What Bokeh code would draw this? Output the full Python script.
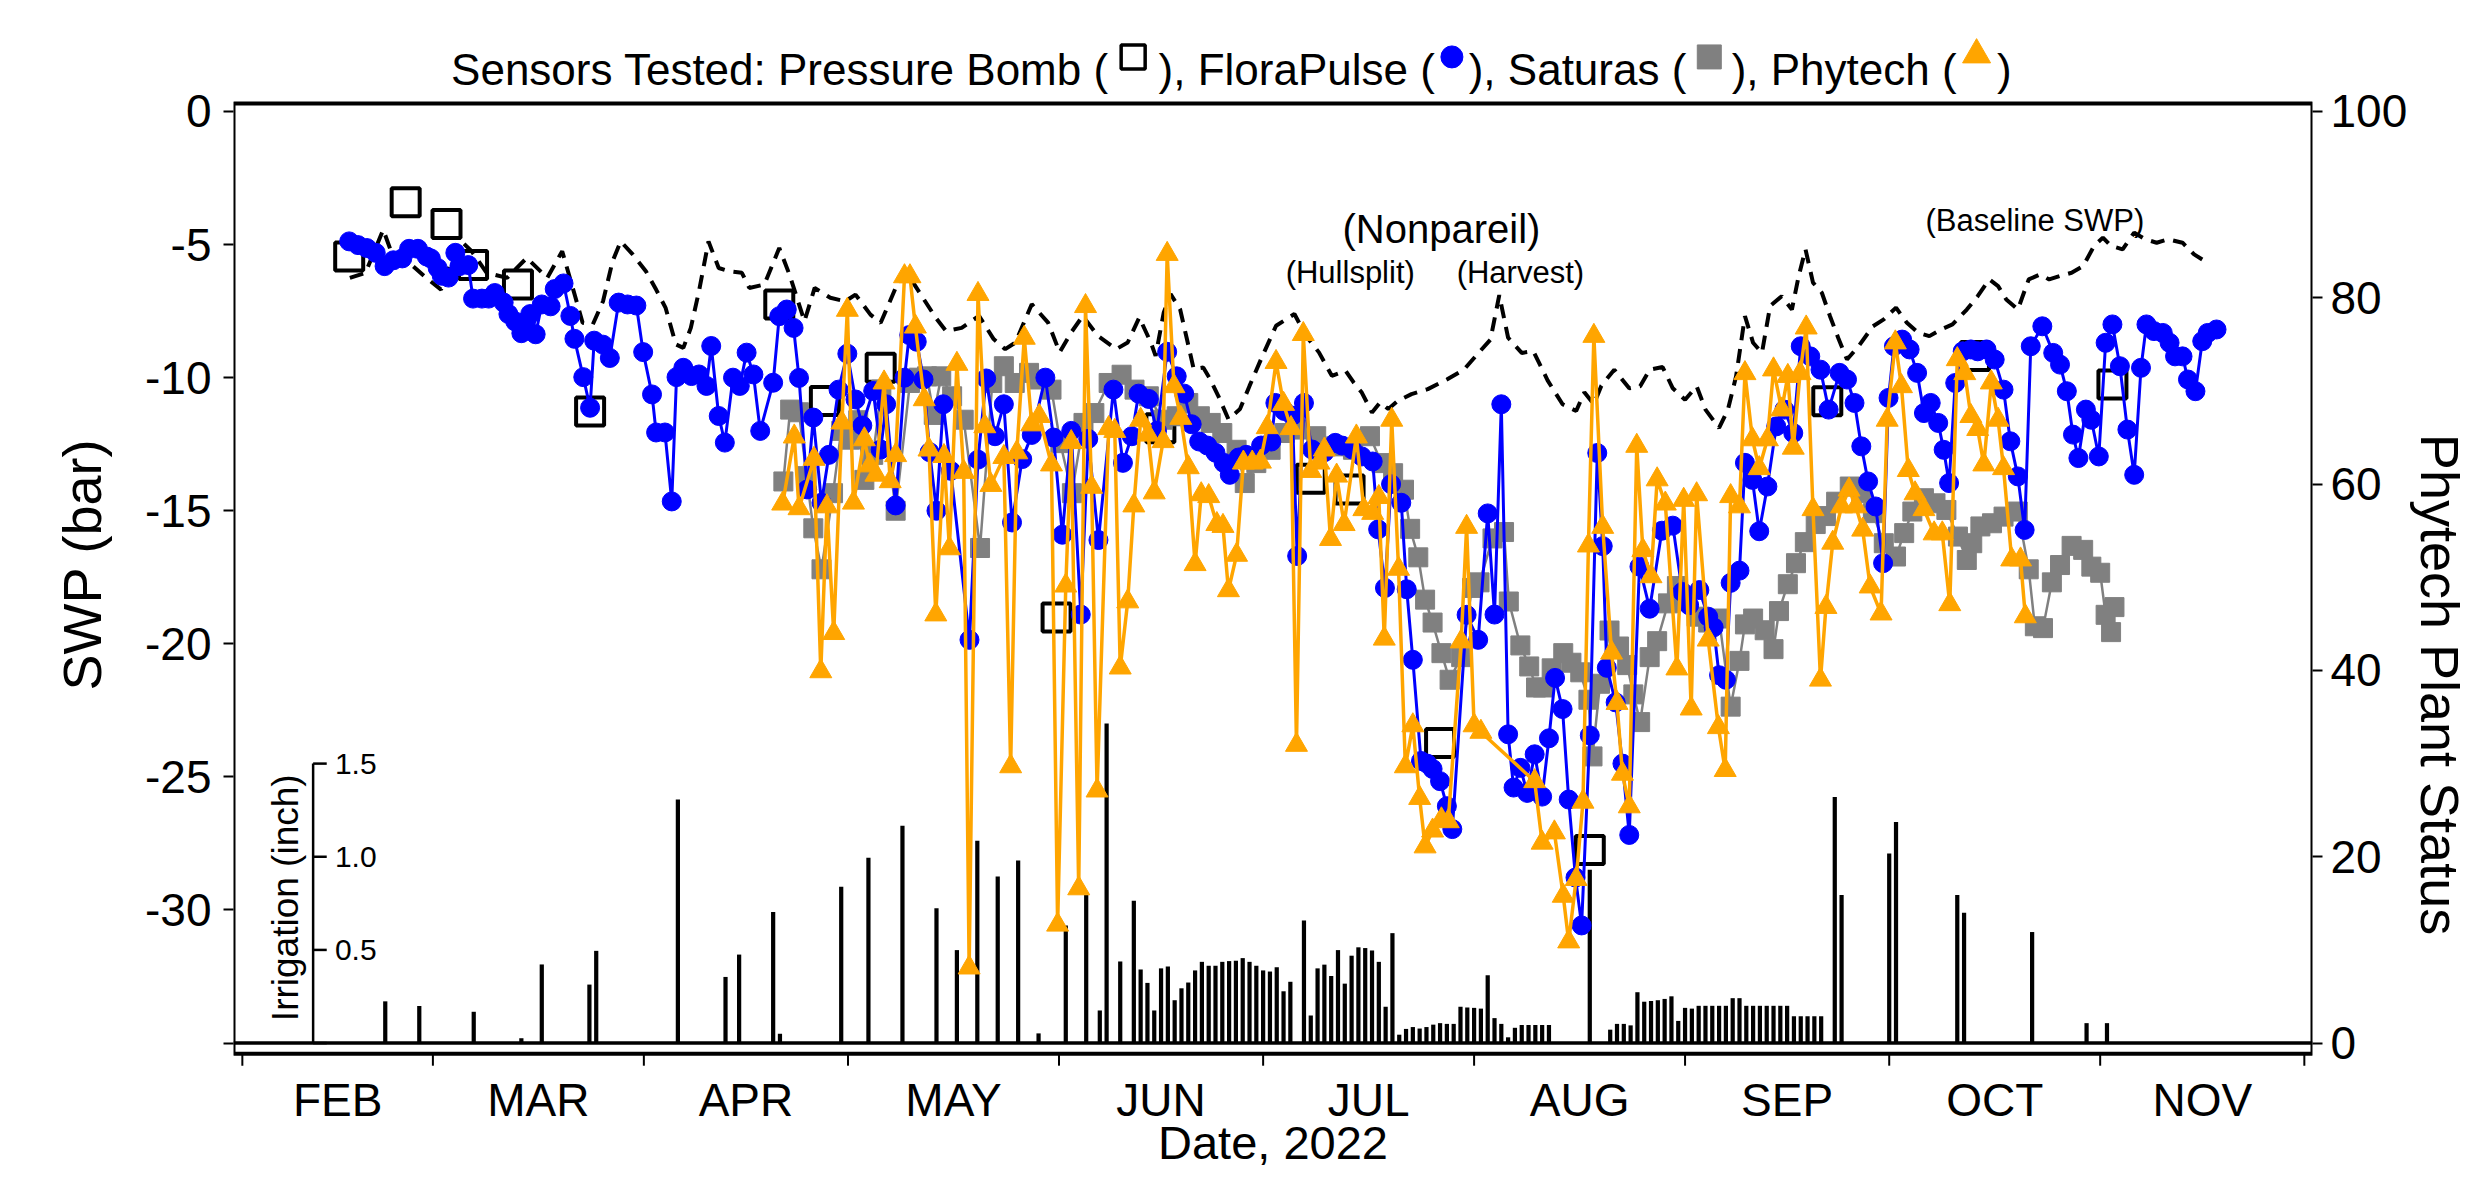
from bokeh.plotting import figure
from bokeh.models import Range1d, LinearAxis, FixedTicker
from bokeh.embed import file_html
from bokeh.resources import INLINE
from bokeh.core.properties import value

FONT = "Liberation Sans"
BLUE = "#0000FF"
GRAY = "#808080"
ORANGE = "#FFA500"

# ---------------- axes / categories ----------------
month_names = ["FEB", "MAR", "APR", "MAY", "JUN", "JUL", "AUG", "SEP", "OCT", "NOV"]
month_start_doy = [32, 60, 91, 121, 152, 182, 213, 244, 274, 305, 335]
swp_ticks = [0, -5, -10, -15, -20, -25, -30, -35]
status_ticks = [0, 20, 40, 60, 80, 100]
irr_ticks = [0.0, 0.5, 1.0, 1.5]
irr_tick_labels = ["0.5", "1.0", "1.5"]

# ---------------- data (day of year 2022) ----------------
# Pressure bomb SWP (bar)
pb_day = [47.7, 56.0, 62.0, 65.9, 72.5, 83.1, 110.9, 117.6, 125.8, 151.65, 166.9,
          189.0, 194.7, 208.0, 230.0, 264.9, 286.6, 306.8]
pb_swp = [-5.45, -3.41, -4.23, -5.77, -6.50, -11.27, -7.25, -10.88, -9.63, -19.01, -11.9,
          -13.8, -14.2, -23.73, -27.75, -10.89, -9.19, -10.26]

# FloraPulse SWP (bar)
fp_day = [47.7, 49.0, 50.3, 51.6, 52.9, 54.2, 55.5, 56.5, 57.8, 59.1, 59.7, 60.7, 61.3, 62.3,
          63.3, 63.9, 65.2, 65.9, 67.2, 68.2, 69.1, 70.4, 71.1, 72.1, 73.0, 73.7, 74.3, 75.1,
          76.0, 77.3, 77.9, 79.2, 80.2, 80.8, 82.1, 83.1, 83.7, 85.0, 86.0, 87.3, 88.6, 89.9,
          90.9, 92.2, 92.8, 94.1, 95.1, 95.8, 96.8, 98.0, 99.1, 100.2, 100.9, 102.0, 102.9,
          104.1, 105.1, 106.1, 107.1, 108.1, 110.0, 110.9, 112.0, 113.0, 113.8, 115.0, 115.9,
          117.1, 118.2, 119.6, 120.9, 122.1, 123.1, 124.7, 125.8, 126.6, 128.0, 129.3, 130.0,
          131.1, 132.1, 133.0, 134.0, 135.0, 136.1, 138.85, 140.1, 141.3, 142.6, 143.9, 145.1,
          146.6, 148.0, 150.0, 151.2, 152.5, 153.8, 155.2, 156.3, 157.8, 160.0, 161.4, 162.7,
          163.7, 165.2, 166.4, 167.9, 169.3, 170.4, 171.5, 172.6, 173.8, 175.0, 176.2, 177.1,
          178.4, 179.5, 180.3, 181.7, 183.2, 183.8, 185.1, 186.3, 187.0, 188.0, 189.2, 191.0,
          192.6, 193.6, 195.1, 196.5, 198.1, 198.9, 199.9, 200.8, 202.3, 203.1, 204.0, 205.2,
          206.1, 206.9, 208.0, 209.0, 209.8, 211.9, 213.6, 215.0, 216.0, 217.0, 218.0, 218.8,
          219.8, 220.8, 221.9, 223.0, 224.0, 224.9, 226.0, 226.9, 227.9, 228.8, 230.0, 231.1,
          231.9, 232.5, 233.8, 234.8, 235.8, 237.3, 238.8, 240.6, 242.2, 243.6, 244.6, 246.1,
          247.4, 248.2, 249.0, 250.0, 250.7, 252.0, 252.8, 253.9, 254.9, 256.1, 257.4, 258.6,
          259.9, 261.0, 262.4, 263.9, 265.1, 266.7, 267.8, 268.9, 269.9, 270.9, 272.0, 273.1,
          273.9, 274.7, 275.9, 277.0, 278.1, 279.1, 280.1, 281.2, 282.0, 282.8, 283.7, 284.8,
          286.0, 287.0, 288.3, 289.5, 290.8, 291.8, 292.9, 293.9, 294.8, 296.5, 298.1, 299.1,
          300.1, 301.0, 301.8, 302.9, 303.7, 304.8, 305.8, 306.8, 307.9, 309.0, 310.0, 311.0,
          311.8, 312.9, 314.2, 315.2, 316.0, 317.1, 317.9, 319.0, 320.0, 320.8, 322.1]
fp_swp = [-4.88, -5.02, -5.13, -5.31, -5.81, -5.59, -5.52, -5.16, -5.16, -5.45, -5.52, -5.88, -6.17, -6.24,
          -5.31, -5.81, -5.77, -7.03, -7.03, -7.03, -6.82, -7.18, -7.61, -7.89, -8.33, -7.89, -7.61, -8.37,
          -7.25, -7.32, -6.67, -6.46, -7.68, -8.54, -9.98, -11.13, -8.61, -8.76, -9.26, -7.18, -7.25, -7.29,
          -9.04, -10.63, -12.06, -12.06, -14.65, -9.98, -9.63, -9.94, -9.88, -10.31, -8.81, -11.44, -12.44,
          -10.0, -10.31, -9.06, -9.88, -12.0, -10.19, -7.69, -7.44, -8.13, -10.01, -14.2, -11.5,
          -14.7, -12.9, -10.45, -9.1, -10.82, -11.8, -10.5, -12.7, -11.0, -14.8, -10.0, -8.4,
          -8.65, -10.07, -12.8, -15.0, -11.0, -13.5, -19.85, -13.08, -10.03, -12.2, -11.0, -15.44,
          -13.06, -12.15, -10.0, -12.25, -15.9, -12.0, -18.9, -12.3, -16.1, -10.45, -13.2, -12.2,
          -10.6, -10.8, -12.0, -9.03, -9.95, -10.6, -11.75, -12.4, -12.55, -12.82, -13.2, -13.65,
          -13.0, -12.9, -13.05, -12.55, -12.4, -10.95, -11.25, -11.43, -16.7, -10.95, -12.7, -12.8,
          -12.45, -12.55, -12.7, -12.96, -13.15, -15.7, -17.9, -14.0, -14.7, -17.95, -20.6, -24.4,
          -24.5, -24.7, -25.16, -26.1, -26.96, -18.91, -19.85, -15.1, -18.9, -11.0, -23.4, -25.4,
          -24.66, -25.6, -24.15, -25.74, -23.55, -21.28, -22.45, -25.85, -28.78, -30.58, -23.44, -12.83,
          -16.33, -20.9, -22.2, -24.5, -27.18, -17.1, -18.68, -15.75, -15.56, -18.05, -18.55, -17.98,
          -18.98, -19.38, -21.18, -21.35, -17.71, -17.25, -13.2, -13.84, -15.77, -14.09, -11.83, -11.2,
          -12.08, -8.82, -9.2, -9.7, -11.2, -9.82, -10.07, -10.95, -12.58, -13.9, -14.84, -16.97,
          -10.76, -8.82, -8.57, -8.94, -9.82, -11.33, -10.95, -11.7, -12.71, -13.96, -10.2, -9.01,
          -8.94, -9.01, -8.94, -9.32, -10.45, -12.39, -13.71, -15.72, -8.82, -8.07, -9.07, -9.51,
          -10.51, -12.14, -13.02, -11.2, -11.58, -12.96, -8.69, -8.0, -9.57, -11.95, -13.65, -9.63,
          -8.0, -8.25, -8.32, -8.69, -9.2, -9.2, -10.07, -10.51, -8.63, -8.32, -8.19]

# Saturas SWP (bar)
sat_day = [111.5, 112.5, 113.8, 114.9, 115.9, 117.1, 118.8, 120.0, 121.3, 122.5, 123.4, 124.7, 125.9,
           128.0, 130.1, 131.4, 132.6, 133.6, 134.7, 136.3, 138.0, 140.4, 142.2, 143.9, 145.5, 147.6,
           148.9, 150.9, 152.2, 153.9, 155.6, 157.2, 159.3, 161.2, 163.1, 165.2, 167.2, 169.3, 171.0,
           172.7, 174.3, 176.0, 178.1, 179.3, 181.0, 183.1, 185.2, 187.3, 189.8, 192.7, 195.2, 197.7,
           199.4, 201.1, 202.7, 203.6, 204.8, 205.8, 206.9, 208.2, 209.4, 211.1, 212.7, 213.8, 215.7,
           217.4, 218.1, 219.8, 221.1, 222.1, 223.1, 224.4, 226.1, 227.3, 228.6, 229.8, 230.4, 231.5,
           232.9, 234.3, 235.5, 236.4, 237.4, 238.8, 239.9, 241.5, 242.8, 244.0, 245.7, 247.4, 249.0,
           250.7, 252.0, 252.8, 254.0, 255.7, 257.0, 257.8, 259.1, 260.3, 261.6, 263.2, 264.7, 266.2,
           268.2, 269.9, 271.6, 273.2, 275.0, 276.2, 277.4, 279.1, 280.8, 282.4, 284.1, 285.4, 286.2,
           287.4, 289.1, 290.8, 292.9, 294.5, 295.4, 296.6, 297.9, 299.1, 300.8, 302.5, 303.7, 305.0,
           305.8, 306.6, 307.1]
sat_swp = [-13.9, -11.2, -11.3, -13.7, -15.66, -17.2, -14.34, -12.0, -12.33, -11.6, -13.84, -12.9, -10.45,
           -15.0, -10.2, -10.0, -9.95, -11.4, -9.95, -10.7, -11.58, -16.4, -10.2, -9.57, -10.2, -9.82,
           -10.07, -10.45, -12.46, -14.34, -11.7, -11.33, -10.2, -9.89, -10.45, -10.7, -11.58, -11.45, -10.95,
           -11.45, -11.7, -12.08, -12.71, -13.96, -13.21, -12.71, -12.08, -11.95, -12.2, -12.58, -12.71, -12.2,
           -13.21, -13.59, -14.21, -15.68, -16.75, -18.34, -19.2, -20.35, -21.35, -20.5, -17.9, -17.69, -16.04,
           -15.8, -18.41, -20.06, -20.85, -21.64, -21.64, -20.92, -20.35, -20.71, -21.07, -22.1, -24.23, -21.5,
           -19.5, -20.1, -20.8, -21.9, -22.94, -20.5, -19.9, -18.48, -17.83, -18.34, -18.98, -19.2, -19.05,
           -22.36, -20.64, -19.27, -19.05, -19.49, -20.2, -18.77, -17.76, -16.97, -16.18, -15.5, -15.2, -14.66,
           -14.09, -14.34, -15.09, -16.22, -16.72, -15.84, -15.03, -14.53, -14.72, -14.97, -15.97, -16.85, -16.22,
           -15.59, -15.47, -15.22, -15.03, -17.2, -19.34, -19.41, -17.69, -17.04, -16.32, -16.47, -17.1, -17.33,
           -18.91, -19.56, -18.62]

# Phytech plant status (0-100)
ph_day = [111.4, 113.1, 113.8, 116.0, 117.0, 117.9, 118.9, 120.1, 120.9, 121.8, 123.4, 124.2, 125.1,
          126.3, 127.2, 128.0, 129.3, 130.1, 130.9, 132.2, 132.9, 133.9, 135.1, 135.9, 137.0, 138.0,
          138.8, 140.1, 141.1, 142.0, 143.9, 144.9, 145.8, 146.9, 148.0, 149.1, 150.9, 151.8, 153.0,
          153.8, 154.9, 155.9, 156.8, 157.6, 159.3, 160.2, 161.0, 162.1, 163.0, 164.0, 165.1, 166.0,
          167.3, 167.9, 168.9, 169.9, 171.0, 172.0, 172.9, 174.0, 175.2, 176.1, 176.9, 178.1, 179.1,
          180.4, 181.6, 182.6, 183.9, 185.0, 186.1, 186.9, 187.9, 189.0, 190.2, 191.0, 191.9, 192.8,
          193.9, 195.7, 196.8, 198.1, 199.0, 199.8, 200.9, 201.9, 202.9, 204.0, 205.0, 205.8, 206.9,
          208.2, 209.2, 211.1, 211.9, 213.0, 214.0, 221.9, 223.0, 224.8, 226.1, 226.9, 228.0, 229.0,
          229.8, 230.6, 231.9, 233.2, 234.0, 234.8, 235.8, 236.9, 237.8, 239.0, 239.9, 241.1, 242.8,
          243.8, 244.9, 245.7, 247.4, 248.9, 249.9, 250.7, 252.0, 252.8, 253.9, 254.9, 256.1, 257.0,
          258.2, 259.1, 259.9, 260.9, 261.8, 262.8, 263.9, 264.7, 265.7, 267.0, 268.1, 269.1, 270.1,
          271.2, 272.8, 273.7, 274.9, 275.8, 276.8, 277.8, 279.1, 280.6, 281.8, 282.9, 284.0, 285.1,
          286.0, 287.0, 287.9, 289.0, 290.0, 290.8, 292.0, 293.3, 294.0]
ph_status = [57.9, 65.1, 57.4, 62.7, 39.9, 57.6, 44.0, 66.6, 78.7, 58.0, 64.8, 62.0, 61.0,
             70.9, 60.3, 63.1, 82.3, 82.3, 76.9, 69.1, 63.7, 46.0, 63.0, 53.1, 72.9, 61.3,
             8.1, 80.4, 66.2, 59.9, 62.9, 29.7, 63.4, 75.7, 66.4, 67.3, 62.1, 12.7, 49.1,
             64.5, 16.6, 79.1, 59.7, 27.1, 66.0, 65.7, 40.3, 47.4, 57.7, 66.9, 65.3, 59.1,
             64.6, 84.7, 70.5, 67.1, 61.8, 51.4, 58.9, 58.7, 55.7, 55.5, 48.6, 52.4, 62.3,
             62.3, 62.4, 66.1, 73.1, 68.6, 66.0, 32.0, 76.1, 61.4, 62.3, 63.7, 54.1, 60.9,
             55.7, 65.1, 57.3, 56.9, 58.6, 43.4, 66.9, 50.9, 29.7, 34.1, 26.3, 21.1, 22.8,
             24.0, 23.8, 43.1, 55.4, 34.1, 33.4, 28.1, 21.5, 22.6, 15.8, 10.9, 17.6, 25.9,
             53.4, 75.9, 55.4, 41.9, 36.5, 28.9, 25.4, 64.1, 52.9, 50.1, 60.5, 57.9, 40.2,
             58.3, 35.9, 58.9, 43.3, 33.9, 29.3, 58.7, 57.6, 71.9, 64.8, 61.7, 64.8, 72.3,
             68.0, 71.6, 63.9, 71.9, 76.8, 57.3, 39.0, 46.8, 53.7, 57.6, 59.4, 57.6, 55.1,
             49.0, 46.1, 66.9, 75.2, 70.5, 61.5, 59.0, 57.3, 54.7, 54.7, 47.1, 73.4, 71.9,
             67.3, 65.9, 62.1, 70.9, 66.9, 61.7, 51.9, 51.9, 45.8]

# Baseline SWP (bar)
base_day = [47.8, 50.1, 52.7, 54.2, 56.8, 59.0, 61.2, 62.7, 64.2, 65.7, 67.9, 70.9, 73.8, 76.8, 79.0,
            80.9, 82.0, 83.5, 85.0, 86.4, 87.6, 89.4, 91.3, 92.8, 94.2, 95.7, 96.8, 97.9, 99.1, 100.5,
            102.0, 103.5, 105.4, 106.5, 108.7, 110.9, 112.4, 114.6, 116.1, 118.4, 120.6, 122.1, 124.3,
            125.8, 128.0, 129.5, 131.7, 133.9, 135.4, 137.7, 140.25, 142.4, 144.1, 145.6, 148.0, 150.4,
            152.1, 153.8, 155.5, 157.7, 160.4, 162.1, 163.8, 165.5, 166.2, 167.4, 168.4, 169.8, 170.8,
            171.8, 173.2, 174.2, 175.4, 176.9, 178.6, 180.0, 181.7, 183.9, 186.6, 188.3, 190.2, 192.1,
            194.1, 195.3, 196.5, 198.0, 199.2, 200.4, 201.8, 203.8, 206.2, 209.0, 211.5, 213.2, 215.4,
            216.7, 218.0, 220.0, 221.7, 223.8, 226.0, 228.0, 229.2, 230.6, 231.7, 233.6, 235.8, 237.4,
            238.8, 240.7, 242.2, 244.0, 245.7, 247.0, 249.0, 250.3, 251.5, 252.8, 254.0, 255.3, 256.5,
            258.2, 259.7, 260.7, 261.7, 262.8, 264.1, 265.3, 266.6, 267.8, 269.5, 271.6, 273.2, 275.0,
            276.6, 278.3, 279.9, 281.6, 283.3, 285.4, 287.0, 288.7, 290.0, 291.2, 292.9, 294.5, 296.2,
            297.5, 299.1, 300.8, 302.5, 304.1, 305.4, 306.6, 308.3, 310.0, 311.6, 313.3, 315.0, 317.1,
            318.8, 320.0]
base_swp = [-6.25, -6.06, -4.44, -5.5, -5.75, -6.25, -6.69, -5.63, -4.88, -5.25, -6.06, -6.25, -5.5, -6.25, -5.25,
            -6.94, -7.94, -8.0, -7.13, -5.63, -4.88, -5.38, -6.0, -6.69, -7.38, -8.75, -8.88, -8.13, -6.75, -4.88,
            -5.88, -6.0, -6.06, -6.63, -6.5, -5.13, -6.13, -7.88, -6.63, -7.0, -7.13, -6.88, -7.63,
            -7.94, -6.63, -6.0, -6.88, -7.75, -8.25, -8.13, -7.68, -8.55, -8.93, -8.68, -7.24, -7.93,
            -9.05, -8.3, -7.68, -8.43, -8.93, -8.68, -7.74, -8.68, -9.18, -7.55, -6.86, -7.43, -8.55,
            -9.68, -9.62, -10.05, -10.68, -11.56, -11.18, -10.31, -9.3, -8.05, -7.61, -8.43, -9.05, -9.93,
            -9.74, -10.18, -10.56, -11.31, -10.93, -11.18, -10.87, -10.62, -10.43, -10.07, -9.7, -9.2, -8.57,
            -6.9, -8.5, -9.07, -9.0, -10.1, -11.0, -11.25, -10.55, -11.0, -10.3, -9.7, -10.4, -10.32,
            -9.7, -9.6, -10.4, -10.83, -10.32, -11.2, -11.89, -11.2, -9.95, -7.69, -8.69, -9.07, -7.31,
            -6.94, -7.44, -6.18, -5.18, -6.43, -6.81, -7.69, -8.57, -9.32, -8.82, -8.07, -7.81, -7.37,
            -7.94, -8.32, -8.44, -8.19, -8.0, -7.44, -6.94, -6.31, -6.56, -7.06, -7.44, -6.31, -6.12,
            -6.31, -6.18, -6.06, -5.81, -5.05, -4.74, -5.05, -5.18, -4.55, -4.8, -4.93, -4.8, -4.93,
            -5.37, -5.56]

# Irrigation (inch)
irr_day = [53, 58, 66, 73, 76, 83, 84, 96, 103, 105, 110, 111, 120, 124, 129, 134, 137, 140, 143, 146,
           149, 153, 156, 158, 159, 161, 163, 164, 165, 166, 167, 168, 169, 170, 171, 172, 173, 174,
           175, 176, 177, 178, 179, 180, 181, 182, 183, 184, 185, 186, 188, 189, 190, 191, 192, 193,
           194, 195, 196, 197, 198, 199, 200, 201, 202, 203, 204, 205, 206, 207, 208, 209, 210, 211,
           212, 213, 214, 215, 216, 217, 218, 219, 220, 221, 222, 223, 224, 230, 233, 234, 235, 236,
           237, 238, 239, 240, 241, 242, 243, 244, 245, 246, 247, 248, 249, 250, 251, 252, 253, 254,
           255, 256, 257, 258, 259, 260, 261, 262, 263, 264, 266, 267, 274, 275, 284, 285, 295, 303, 306]
irr_in = [0.224, 0.199, 0.168, 0.026, 0.422, 0.314, 0.495, 1.308, 0.355, 0.475, 0.703, 0.05, 0.839, 0.995,
          1.167, 0.723, 0.499, 1.086, 0.894, 0.98, 0.052, 0.631, 0.795, 0.175, 1.715, 0.438, 0.764, 0.395,
          0.323, 0.175, 0.401, 0.411, 0.23, 0.294, 0.325, 0.39, 0.436, 0.415, 0.415, 0.436, 0.44, 0.442,
          0.456, 0.436, 0.415, 0.39, 0.384, 0.407, 0.278, 0.329, 0.658, 0.148, 0.401, 0.421, 0.36, 0.499,
          0.319, 0.469, 0.514, 0.51, 0.497, 0.436, 0.195, 0.59, 0.045, 0.076, 0.086, 0.078, 0.086, 0.099,
          0.107, 0.103, 0.103, 0.195, 0.191, 0.189, 0.185, 0.364, 0.134, 0.103, 0.031, 0.082, 0.097, 0.097,
          0.097, 0.097, 0.097, 0.93, 0.072, 0.103, 0.103, 0.095, 0.273, 0.222, 0.226, 0.23, 0.237, 0.251,
          0.119, 0.189, 0.185, 0.2, 0.2, 0.2, 0.2, 0.2, 0.241, 0.241, 0.2, 0.2, 0.2, 0.2, 0.2, 0.2, 0.2,
          0.144, 0.144, 0.144, 0.144, 0.144, 1.321, 0.795, 1.017, 1.187, 0.795, 0.699, 0.596, 0.107, 0.107]

title_texts = ["Sensors Tested: Pressure Bomb (", "), FloraPulse (", "), Saturas (", "), Phytech (", ")"]

# ---------------- layout constants ----------------
W, H = 2473, 1173
X0, X1 = 30.7, 336.2           # x extent of frame (day of year)
Y0, Y1 = -35.4, 0.3            # visible plot box (bar)
YR0, YR1 = -39.9, 4.17         # full canvas height in bar units (room for title / month names)
SWP_FLOOR = -35.0              # SWP level of status 0 / irrigation 0
BAR_PER_STATUS = 35.0 / 100.0
BAR_PER_INCH = 7.0

p = figure(width=W, height=H, x_range=Range1d(X0, X1), y_range=Range1d(YR0, YR1),
           output_backend="svg", toolbar_location=None, title=None, x_axis_location=None,
           min_border_left=233, min_border_right=141, min_border_top=0, min_border_bottom=0)
p.extra_y_ranges = {
    "status": Range1d((YR0 - SWP_FLOOR) / BAR_PER_STATUS, (YR1 - SWP_FLOOR) / BAR_PER_STATUS),
    "irr": Range1d((YR0 - SWP_FLOOR) / BAR_PER_INCH, (YR1 - SWP_FLOOR) / BAR_PER_INCH),
}
p.grid.visible = False
p.outline_line_color = None
p.background_fill_color = "white"
p.border_fill_color = "white"

# left axis
ya = p.yaxis[0]
ya.ticker = FixedTicker(ticks=swp_ticks)
ya.major_label_overrides = {v: ("" if v == -35 else str(v)) for v in swp_ticks}
ya.major_tick_out = 10
ya.major_tick_in = 0
ya.minor_tick_line_color = None
ya.major_tick_line_width = 2
ya.major_tick_line_color = "black"
ya.axis_line_color = None
ya.major_label_text_font = FONT
ya.major_label_text_font_size = "46px"
ya.major_label_text_color = "black"
ya.major_label_standoff = 12
ya.axis_label = "\u00a0" * 3 + "SWP (bar)"
ya.axis_label_text_font = FONT
ya.axis_label_text_font_size = "54px"
ya.axis_label_text_font_style = "normal"
ya.axis_label_text_color = "black"
ya.axis_label_standoff = 30

# right axis
ra = LinearAxis(y_range_name="status", ticker=FixedTicker(ticks=status_ticks))
ra.major_label_overrides = {v: str(v) for v in status_ticks}
ra.major_tick_out = 10
ra.major_tick_in = 0
ra.minor_tick_line_color = None
ra.major_tick_line_width = 2
ra.major_tick_line_color = "black"
ra.axis_line_color = None
ra.major_label_text_font = FONT
ra.major_label_text_font_size = "46px"
ra.major_label_text_color = "black"
ra.major_label_standoff = 8
ra.axis_label = "\u00a0" * 13 + "Phytech Plant Status"
ra.axis_label_text_font = FONT
ra.axis_label_text_font_size = "54px"
ra.axis_label_text_font_style = "normal"
ra.axis_label_text_color = "black"
ra.axis_label_standoff = 0
p.add_layout(ra, "right")

# plot box and month ticks
p.quad(left=[X0], right=[X1], bottom=[Y0], top=[Y1], fill_color=None, line_color="black",
       line_width=4)
p.segment(x0=month_start_doy, y0=[Y0] * len(month_start_doy), x1=month_start_doy,
          y1=[Y0 - 0.45] * len(month_start_doy), line_color="black", line_width=2)
mids = [(a + c) / 2 for a, c in zip(month_start_doy[:-1], month_start_doy[1:])]
p.text(x=mids, y=[-37.15] * len(mids), text=month_names, text_font=value(FONT),
       text_font_size=value("46px"), text_color="black", text_align="center",
       text_baseline="alphabetic")
p.text(x=[(X0 + X1) / 2], y=[-38.72], text=["Date, 2022"], text_font=value(FONT),
       text_font_size=value("47px"), text_color="black", text_align="center",
       text_baseline="alphabetic")

# irrigation bars + inset axis
p.vbar(x=irr_day, top=irr_in, bottom=0, width=0.62, fill_color="black", line_color=None,
       y_range_name="irr")
p.segment(x0=[X0], y0=[0], x1=[X1], y1=[0], line_color="black", line_width=3.5,
          y_range_name="irr")
IRR_AX_X = 42.4
p.segment(x0=[IRR_AX_X], y0=[irr_ticks[0]], x1=[IRR_AX_X], y1=[irr_ticks[-1]],
          line_color="black", line_width=2.5, y_range_name="irr")
p.segment(x0=[IRR_AX_X] * len(irr_ticks), y0=irr_ticks, x1=[IRR_AX_X + 2.0] * len(irr_ticks),
          y1=irr_ticks, line_color="black", line_width=2.5, y_range_name="irr")
p.text(x=[IRR_AX_X + 3.2] * len(irr_tick_labels), y=irr_ticks[1:], text=irr_tick_labels,
       text_font=value(FONT), text_font_size=value("30px"), text_baseline="middle",
       text_align="left", text_color="black", y_range_name="irr")
p.text(x=[38.3], y=[0.78], text=["Irrigation (inch)"], angle=1.5708, text_font=value(FONT),
       text_font_size=value("37px"), text_align="center", text_baseline="middle",
       text_color="black", y_range_name="irr")

# series
p.line(base_day, base_swp, line_color="black", line_width=4, line_dash="14 9")
p.scatter(pb_day, pb_swp, marker="square", size=28, fill_color=None, line_color="black",
          line_width=4)
p.line(sat_day, sat_swp, line_color=GRAY, line_width=2.5)
p.scatter(sat_day, sat_swp, marker="square", size=19, fill_color=GRAY, line_color=GRAY)
p.line(fp_day, fp_swp, line_color=BLUE, line_width=3)
p.scatter(fp_day, fp_swp, marker="circle", size=19, fill_color=BLUE, line_color=BLUE)
p.line(ph_day, ph_status, line_color=ORANGE, line_width=3.5, y_range_name="status")
p.scatter(ph_day, ph_status, marker="triangle", size=22, fill_color=ORANGE, line_color=ORANGE,
          y_range_name="status")

# annotations
p.text(x=[208.2, 194.8, 219.8, 295.4], y=[-4.43, -6.05, -6.05, -4.10],
       text=["(Nonpareil)", "(Hullsplit)", "(Harvest)", "(Baseline SWP)"],
       text_font=value(FONT), text_font_size=["40px", "31px", "31px", "31px"],
       text_align="center", text_baseline="middle", text_color="black")

# title: text pieces with coloured sensor symbols
p.text(x=[62.67, 166.64, 212.21, 250.85, 289.84], y=[1.58] * 5, text=title_texts,
       text_font=value(FONT), text_font_size=value("44px"), text_color="black",
       text_align="left", text_baseline="alphabetic")
p.scatter(x=[162.9], y=[2.05], marker="square", size=24, fill_color=None, line_color="black",
          line_width=3.5)
p.scatter(x=[209.74], y=[2.05], marker="circle", size=22, fill_color=BLUE, line_color=BLUE)
p.scatter(x=[247.56], y=[2.05], marker="square", size=24, fill_color=GRAY, line_color=GRAY)
p.scatter(x=[286.84], y=[2.13], marker="triangle", size=28, fill_color=ORANGE,
          line_color=ORANGE)

open("out.html", "w").write(file_html(p, INLINE))
